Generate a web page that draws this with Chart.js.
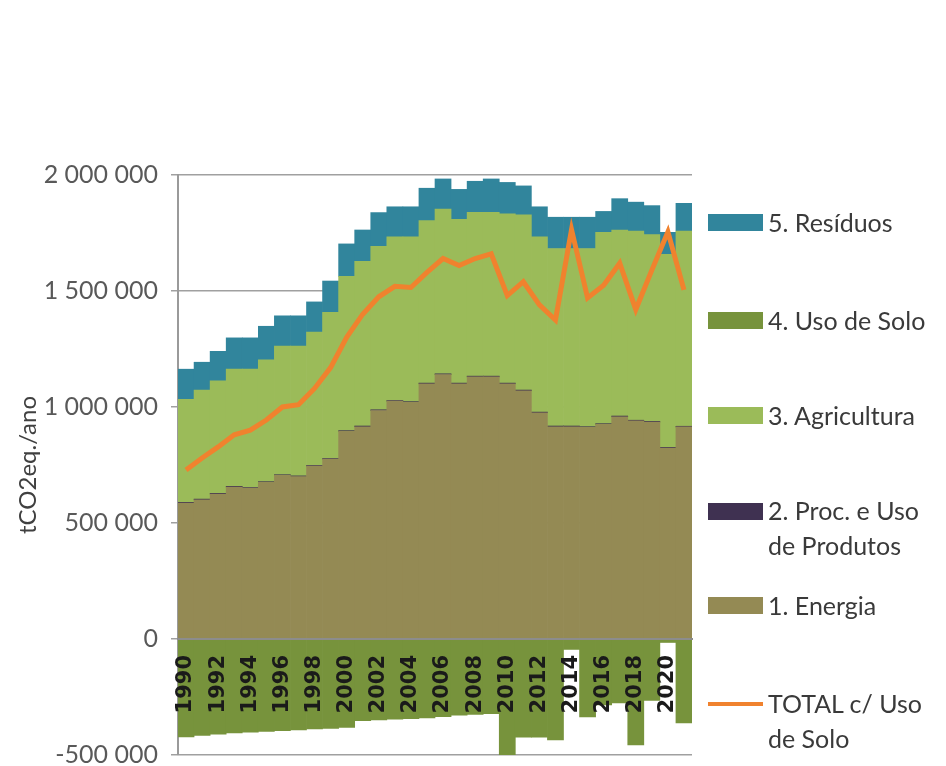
<!DOCTYPE html>
<html>
<head>
<meta charset="utf-8">
<script src="https://cdn.jsdelivr.net/npm/chart.js@4.4.1/dist/chart.umd.min.js"></script>
<style>
  html, body { margin: 0; padding: 0; background: #fff; overflow: hidden; }
  #wrap { position: relative; width: 946px; height: 766px; overflow: hidden; }
  #c { position: absolute; left: 0; top: 0; }
  .lg { position: absolute; font-family: Lato, "Open Sans", sans-serif; font-size: 25px; color: #3a3a3a; line-height: 35px; white-space: nowrap; }
  .box { position: absolute; width: 55px; height: 17px; }
  .ln { position: absolute; width: 55px; height: 4px; background: #F0822E; }
</style>
</head>
<body>
<div id="wrap">
  <canvas id="c" width="946" height="783"></canvas>
  <div class="box" style="left:708px;top:214px;background:#31859C"></div>
  <div class="lg" style="left:768px;top:205px">5. Resíduos</div>
  <div class="box" style="left:708px;top:312px;background:#77933C"></div>
  <div class="lg" style="left:768px;top:303px">4. Uso de Solo</div>
  <div class="box" style="left:708px;top:407px;background:#9BBB59"></div>
  <div class="lg" style="left:768px;top:398px">3. Agricultura</div>
  <div class="box" style="left:708px;top:503px;background:#3F3151"></div>
  <div class="lg" style="left:768px;top:493px">2. Proc. e Uso<br>de Produtos</div>
  <div class="box" style="left:708px;top:597px;background:#948A54"></div>
  <div class="lg" style="left:768px;top:588px">1. Energia</div>
  <div class="ln" style="left:708px;top:702px"></div>
  <div class="lg" style="left:768px;top:686px">TOTAL c/ Uso<br>de Solo</div>
</div>
<script>
const years = ["1990","1991","1992","1993","1994","1995","1996","1997","1998","1999","2000","2001","2002","2003","2004","2005","2006","2007","2008","2009","2010","2011","2012","2013","2014","2015","2016","2017","2018","2019","2020","2021"];
const energia = [586000,600000,625000,655000,650000,675000,705000,700000,745000,775000,895000,915000,985000,1025000,1020000,1100000,1140000,1100000,1130000,1130000,1100000,1070000,975000,915000,915000,912000,925000,958000,940000,935000,823000,914000];
const procUso = [3000,3000,3000,3000,3000,3000,3000,3000,3000,3000,3000,3000,3000,3000,3000,3000,3000,3000,3000,3000,3000,3000,3000,3000,3000,3000,3000,3000,3000,3000,3000,3000];
const agricultura = [444000,470000,485000,505000,510000,525000,555000,560000,575000,630000,665000,710000,705000,705000,710000,700000,710000,706000,706000,706000,730000,755000,755000,765000,765000,768000,825000,802000,815000,805000,832000,841000];
const residuos = [130000,120000,127000,135000,135000,145000,130000,130000,130000,135000,140000,135000,145000,130000,130000,140000,130000,129000,134000,144000,135000,125000,130000,135000,135000,135000,90000,135000,125000,125000,95000,120000];
const usoSolo = [-422000,-416000,-410000,-405000,-402000,-398000,-395000,-392000,-388000,-385000,-381000,-352000,-349000,-346000,-343000,-340000,-335000,-328000,-325000,-322000,-500000,-423000,-423000,-435000,-45000,-336000,-284000,-275000,-457000,-265000,-15000,-362000];
const total = [728000,780000,828000,880000,900000,944000,1000000,1010000,1080000,1170000,1300000,1400000,1475000,1520000,1515000,1580000,1640000,1610000,1640000,1660000,1480000,1540000,1440000,1375000,1765000,1470000,1525000,1620000,1420000,1590000,1755000,1505000];
const yTicks = [-500000, 0, 500000, 1000000, 1500000, 2000000];

function fmt(v) {
  const s = String(Math.abs(v)).replace(/\B(?=(\d{3})+(?!\d))/g, ' ');
  return (v < 0 ? '-' : '') + s;
}

const barBase = { type: 'bar', stack: 'g', order: 2, barPercentage: 1.0, categoryPercentage: 1.0, borderWidth: 0 };

new Chart(document.getElementById('c'), {
  data: {
    labels: years,
    datasets: [
      Object.assign({ label: '1. Energia', data: energia, backgroundColor: '#948A54' }, barBase),
      Object.assign({ label: '2. Proc. e Uso de Produtos', data: procUso, backgroundColor: '#3F3151' }, barBase),
      Object.assign({ label: '3. Agricultura', data: agricultura, backgroundColor: '#9BBB59' }, barBase),
      Object.assign({ label: '5. Resíduos', data: residuos, backgroundColor: '#31859C' }, barBase),
      Object.assign({ label: '4. Uso de Solo', data: usoSolo, backgroundColor: '#77933C' }, barBase),
      { type: 'line', label: 'TOTAL c/ Uso de Solo', data: total, stack: 'line', order: 0,
        borderColor: '#F0822E', borderWidth: 5, pointRadius: 0, tension: 0, fill: false }
    ]
  },
  options: {
    responsive: false,
    animation: false,
    layout: { padding: { left: 0, top: 175, right: 254, bottom: 11 } },
    plugins: { legend: { display: false }, tooltip: { enabled: false } },
    scales: {
      x: {
        position: { y: 0 },
        stacked: true,
        offset: true,
        grid: { display: false, drawTicks: false },
        border: { display: true, color: '#8c8c8c', width: 2, z: 1 },
        ticks: {
          z: 1,
          autoSkip: false,
          minRotation: 90,
          maxRotation: 90,
          padding: 16,
          color: '#1a1a1a',
          font: { family: 'DejaVu Sans', size: 21, weight: 'bold' },
          callback: function(v, i) { return i % 2 === 0 ? years[i] : ''; }
        }
      },
      y: {
        stacked: true,
        min: -500000,
        max: 2000000,
        afterBuildTicks: function(scale) { scale.ticks = yTicks.map(v => ({ value: v })); },
        afterFit: function(scale) { scale.width = 178; },
        grid: { color: '#a0a0a0', lineWidth: 1.5, tickLength: 7 },
        border: { display: true, color: '#9a9a9a', width: 2 },
        ticks: {
          padding: 13,
          color: '#595959',
          font: { family: 'Lato', size: 25 },
          callback: function(v) { return fmt(v); }
        },
        title: {
          display: true,
          text: 'tCO2eq./ano',
          color: '#404040',
          font: { family: 'Lato', size: 24 },
          padding: { top: 14, bottom: 0 }
        }
      }
    }
  }
});
</script>
</body>
</html>
